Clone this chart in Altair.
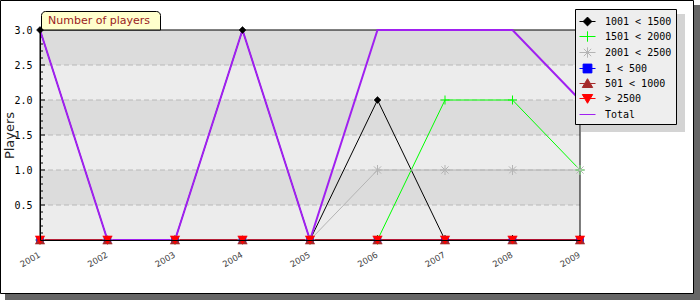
import altair as alt
import pandas as pd

# ---------------- data ----------------
years = [2001, 2002, 2003, 2004, 2005, 2006, 2007, 2008, 2009]
series_names = ["1001 < 1500", "1501 < 2000", "2001 < 2500", "1 < 500", "501 < 1000", "> 2500", "Total"]
s_1001_1500 = [3, 0, 0, 3, 0, 2, 0, 0, 0]
s_1501_2000 = [0, 0, 0, 0, 0, 0, 2, 2, 1]
s_2001_2500 = [0, 0, 0, 0, 0, 1, 1, 1, 1]
s_1_500 = [0, 0, 0, 0, 0, 0, 0, 0, 0]
s_501_1000 = [0, 0, 0, 0, 0, 0, 0, 0, 0]
s_gt_2500 = [0, 0, 0, 0, 0, 0, 0, 0, 0]
s_total = [3, 0, 0, 3, 0, 3, 3, 3, 2]
series_values = [s_1001_1500, s_1501_2000, s_2001_2500, s_1_500, s_501_1000, s_gt_2500, s_total]

y_labels = [0.5, 1.0, 1.5, 2.0, 2.5, 3.0]
grid_values = [0.5, 1.0, 1.5, 2.0, 2.5]
dark_band_lo = [0.5, 1.5, 2.5]
dark_band_hi = [1.0, 2.0, 3.0]
y_minor_ticks = [round(i * 0.1, 1) for i in range(1, 30) if i % 5 != 0]
y_major_ticks = [0.5, 1.0, 1.5, 2.0, 2.5]
chart_title = "Number of players"
y_title = "Players"

# ---------------- styles ----------------
colors = ["#000000", "#00ff00", "#b4b4b4", "#0000ff", "#a52a2a", "#ff0000", "#a020f0"]
plot_shapes = ["diamond", "M-1,0L1,0M0,-1L0,1",
               "M-1,0L1,0M0,-1L0,1M-0.72,-0.72L0.72,0.72M-0.72,0.72L0.72,-0.72",
               "square", "triangle-up", "triangle-down"]
plot_sizes = [49, 81, 100, 49, 90, 90]
plot_filled = [True, False, False, True, True, True]
legend_shapes = [
    "M-1,0L1,0M0,-0.55L0.55,0L0,0.55L-0.55,0Z",
    "M-1,0L1,0M0,-0.65L0,0.65",
    "M-1,0L1,0M0,-0.65L0,0.65M-0.46,-0.46L0.46,0.46M-0.46,0.46L0.46,-0.46",
    "M-1,0L1,0M-0.55,-0.55L0.55,-0.55L0.55,0.55L-0.55,0.55Z",
    "M-1,0L1,0M0,-0.6L0.65,0.5L-0.65,0.5Z",
    "M-1,0L1,0M-0.65,-0.5L0.65,-0.5L0,0.6Z",
    "M-1,0L1,0",
]

W, H = 540, 210

rows = []
for name, vals in zip(series_names, series_values):
    for yr, v in zip(years, vals):
        rows.append({"series": name, "x": yr, "y": v})
df = pd.DataFrame(rows)

one = pd.DataFrame({"a": [0]})

x_enc = alt.X("x:Q", scale=alt.Scale(domain=[2001, 2009], nice=False, zero=False),
              axis=alt.Axis(values=years, format="d", labelAngle=-30, labelAlign="right",
                            labelBaseline="top", labelPadding=10, labelOffset=-3,
                            labelFont="DejaVu Sans", labelFontSize=8.5, labelColor="#444444",
                            ticks=False, grid=False, domainColor="black", domainWidth=1,
                            title=None, zindex=1))
y_enc = alt.Y("y:Q", scale=alt.Scale(domain=[0, 3], nice=False, zero=True),
              axis=alt.Axis(values=y_labels, format=".1f", labelFont="DejaVu Sans Mono",
                            labelFontSize=10, labelColor="black", labelPadding=8,
                            ticks=False, grid=False, domainColor="black", domainWidth=1,
                            title=y_title, titleFont="DejaVu Sans", titleFontSize=13,
                            titleFontWeight="normal", titleColor="#222222",
                            titleAngle=-90, titleX=-27, titleY=H / 2, titleAlign="center",
                            titleBaseline="alphabetic", zindex=1))

layers = []

# outer shadow + frame
layers.append(alt.Chart(one).mark_rect(fill="#666666").encode(
    x=alt.value(-35), x2=alt.value(660), y=alt.value(-25), y2=alt.value(270)))
layers.append(alt.Chart(one).mark_rect(fill="white", stroke="black", strokeWidth=1).encode(
    x=alt.value(-39.5), x2=alt.value(653.5), y=alt.value(-29.5), y2=alt.value(263.5)))

# plot background bands
layers.append(alt.Chart(one).mark_rect(fill="#ececec").encode(
    x=alt.value(0), x2=alt.value(W), y=alt.value(0), y2=alt.value(H)))
bands = pd.DataFrame({"y": dark_band_lo, "y2": dark_band_hi})
layers.append(alt.Chart(bands).mark_rect(fill="#dcdcdc").encode(
    x=alt.value(0), x2=alt.value(W), y=y_enc, y2="y2:Q"))

# dashed grid
grid = pd.DataFrame({"y": grid_values})
layers.append(alt.Chart(grid).mark_rule(color="#b8b8b8", strokeDash=[5, 3], strokeWidth=1).encode(
    y=y_enc, x=alt.value(0), x2=alt.value(W)))

# plot border
layers.append(alt.Chart(one).mark_rect(fillOpacity=0, stroke="black", strokeWidth=1).encode(
    x=alt.value(0), x2=alt.value(W), y=alt.value(0), y2=alt.value(H)))

# ticks
layers.append(alt.Chart(pd.DataFrame({"y": y_minor_ticks})).mark_rule(color="black").encode(
    y=y_enc, x=alt.value(0), x2=alt.value(3)))
layers.append(alt.Chart(pd.DataFrame({"y": y_major_ticks})).mark_rule(color="black").encode(
    y=y_enc, x=alt.value(0), x2=alt.value(5)))
layers.append(alt.Chart(pd.DataFrame({"x": years})).mark_rule(color="black").encode(
    x=x_enc, y=alt.value(H - 5), y2=alt.value(H + 1)))

# title tab
layers.append(alt.Chart(one).mark_rect(fill="#ffffcc", stroke="black", strokeWidth=1,
                                       cornerRadiusTopLeft=4, cornerRadiusTopRight=4).encode(
    x=alt.value(1.5), x2=alt.value(120.5), y=alt.value(-18.5), y2=alt.value(0)))
layers.append(alt.Chart(pd.DataFrame({"t": [chart_title]})).mark_text(
    align="left", baseline="alphabetic", font="DejaVu Sans", fontSize=11, color="#992222").encode(
    x=alt.value(8), y=alt.value(-6), text="t:N"))

# legend shadow
layers.append(alt.Chart(one).mark_rect(fill="#d4d4d4").encode(
    x=alt.value(541), x2=alt.value(645), y=alt.value(-16), y2=alt.value(102)))

# series lines
for i, name in enumerate(series_names[:-1]):
    layers.append(alt.Chart(df).transform_filter(alt.datum.series == name).mark_line(
        color=colors[i], strokeWidth=1).encode(x=x_enc, y=y_enc, order="x:Q"))
layers.append(alt.Chart(df).transform_filter(alt.datum.series == "Total").mark_line(
    color=colors[-1], strokeWidth=2).encode(x=x_enc, y=y_enc, order="x:Q"))

# markers
for i, name in enumerate(series_names[:-1]):
    if plot_filled[i]:
        mk = alt.Chart(df).transform_filter(alt.datum.series == name).mark_point(
            shape=plot_shapes[i], size=plot_sizes[i], filled=True, opacity=1,
            fill=colors[i], stroke=colors[i], strokeWidth=0.5)
    else:
        mk = alt.Chart(df).transform_filter(alt.datum.series == name).mark_point(
            shape=plot_shapes[i], size=plot_sizes[i], filled=False, opacity=1,
            stroke=colors[i], strokeWidth=1)
    layers.append(mk.encode(x=x_enc, y=y_enc))

# legend (driven by an off-canvas dummy layer)
leg = alt.Legend(orient="none", legendX=535, legendY=-21, title=None, padding=4,
                 fillColor="#eeeeee", strokeColor="black", labelFont="DejaVu Sans Mono",
                 labelFontSize=10, labelColor="black", symbolSize=256, symbolStrokeWidth=1,
                 rowPadding=0, labelOffset=9, symbolOpacity=1)
legend_df = pd.DataFrame({"series": series_names})
layers.append(alt.Chart(legend_df).mark_point(filled=True, opacity=1, strokeWidth=1).encode(
    x=alt.value(-3000), y=alt.value(-3000),
    fill=alt.Fill("series:N", scale=alt.Scale(domain=series_names, range=colors), legend=leg, sort=series_names),
    stroke=alt.Stroke("series:N", scale=alt.Scale(domain=series_names, range=colors), legend=leg, sort=series_names),
    shape=alt.Shape("series:N", scale=alt.Scale(domain=series_names, range=legend_shapes), legend=leg, sort=series_names),
))

chart = alt.layer(*layers).properties(
    width=W, height=H,
    autosize=alt.AutoSizeParams(type="none"),
    padding={"left": 40, "top": 30, "right": 120, "bottom": 60},
    background="white",
).configure_view(strokeWidth=0)

chart.save("out.html", embed_options={"renderer": "svg", "actions": False})
